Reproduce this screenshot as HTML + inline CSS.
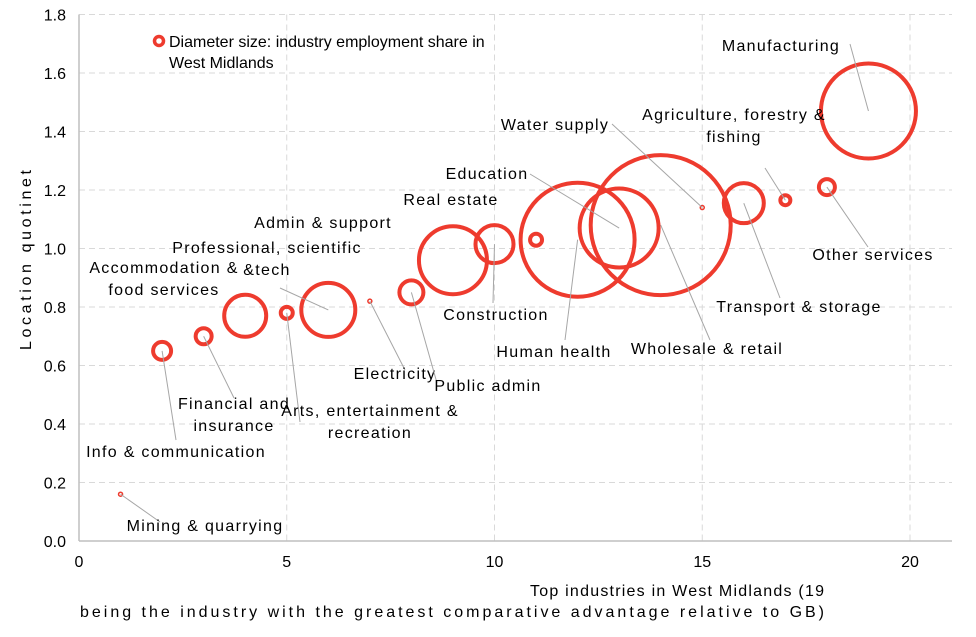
<!DOCTYPE html>
<html><head><meta charset="utf-8">
<style>
html,body{margin:0;padding:0;background:#fff;}
svg{display:block;font-family:"Liberation Sans",Arial,sans-serif;}
</style></head>
<body>
<svg id="chart" width="976" height="637" viewBox="0 0 976 637" xmlns="http://www.w3.org/2000/svg"></svg>
<script>
const industries = ["Mining & quarrying","Info & communication","Financial and insurance","Accommodation & food services","Arts, entertainment & recreation","Professional, scientific &tech","Electricity","Public admin","Admin & support","Construction","Real estate","Human health","Education","Wholesale & retail","Water supply","Transport & storage","Agriculture, forestry & fishing","Other services","Manufacturing"];
const rankValues = [1,2,3,4,5,6,7,8,9,10,11,12,13,14,15,16,17,18,19];
const lqValues = [0.16,0.65,0.70,0.77,0.78,0.79,0.82,0.85,0.96,1.015,1.03,1.03,1.07,1.08,1.14,1.155,1.165,1.21,1.47];
const employmentShare = [0.2,1.8,1.6,4.2,1.2,5.4,0.4,2.4,6.8,3.8,1.2,11.4,7.9,14.0,0.4,4.0,1.0,1.6,9.5];
const xTicks = [0,5,10,15,20];
const yTicks = [0,0.2,0.4,0.6,0.8,1.0,1.2,1.4,1.6,1.8];

const X0=79, X1=910, Y0=541, Y1=14.5, RIGHT=952;
const xs = v => X0 + (X1-X0)*v/20;
const ys = v => Y0 - (Y0-Y1)*v/1.8;
const rs = v => Math.max(2, v*5);
const NS="http://www.w3.org/2000/svg";
const svg=document.getElementById('chart');
function mk(tag,attrs,parent){const e=document.createElementNS(NS,tag);for(const k in attrs)e.setAttribute(k,attrs[k]);(parent||svg).appendChild(e);return e;}

const grid=mk('g',{});


yTicks.forEach(t=>{ if(t>0){ const l=mk('line',{x1:X0,x2:RIGHT,y1:ys(t),y2:ys(t),stroke:'#d9d9d9','stroke-width':1,'stroke-dasharray':'6,4'},grid);

}
 const tx=mk('text',{x:66,y:ys(t)+6,'text-anchor':'end','font-size':16,fill:'#000'});
 tx.textContent=t.toFixed(1);
 
 
});
xTicks.forEach(t=>{ if(t>0){ const l=mk('line',{x1:xs(t),x2:xs(t),y1:Y1,y2:Y0,stroke:'#d9d9d9','stroke-width':1,'stroke-dasharray':'6,4'},grid);

}
 const tx=mk('text',{x:xs(t),y:Y0+26,'text-anchor':'middle','font-size':16,fill:'#000'});
 tx.textContent=t;
 
 
});
const ya=mk('line',{x1:X0,x2:X0,y1:Y1,y2:Y0,stroke:'#bfbfbf','stroke-width':1.5});


const xa=mk('line',{x1:X0,x2:RIGHT,y1:Y0,y2:Y0,stroke:'#bfbfbf','stroke-width':1.5});



const labelPos = [
 [["Mining & quarrying"],205,531,'middle',160,522],
 [["Info & communication"],176,457,'middle',176,440],
 [["Financial and","insurance"],234,409,'middle',234,398],
 [["Accommodation &","food services"],164,273,'middle',null,null],
 [["Arts, entertainment &","recreation"],370,416,'middle',300,422],
 [["Professional, scientific","&tech"],267,253,'middle',280,288],
 [["Electricity"],395,379,'middle',405,370],
 [["Public admin"],488,391,'middle',437,383],
 [["Admin & support"],323,228,'middle',null,null],
 [["Construction"],496,320,'middle',493,303],
 [["Real estate"],451,205,'middle',null,null],
 [["Human health"],554,357,'middle',565,340],
 [["Education"],487,179,'middle',530,174],
 [["Wholesale & retail"],707,354,'middle',710,340],
 [["Water supply"],555,130,'middle',612,124],
 [["Transport & storage"],799,312,'middle',780,298],
 [["Agriculture, forestry &","fishing"],734,120,'middle',765,168],
 [["Other services"],873,260,'middle',868,247],
 [["Manufacturing"],781,51,'middle',850,44]
];

const marks=mk('g',{});


industries.forEach((name,i)=>{
 const cx=xs(rankValues[i]), cy=ys(lqValues[i]);
 const lp=labelPos[i];
 if(lp[4]!==null){
  const ln=mk('line',{x1:lp[4],y1:lp[5],x2:cx,y2:cy,stroke:'#a6a6a6','stroke-width':1});
  
  
 }
 const r=rs(employmentShare[i]);
 const c=mk('circle',{cx:cx,cy:cy,r:r,fill:'none',stroke:'#ee3b2e','stroke-width':r<3?1.5:4},marks);
 
 
 const t=mk('text',{x:lp[1],y:lp[2],'text-anchor':lp[3],'font-size':16,fill:'#000','letter-spacing':'1.3px'});
 
 
 lp[0].forEach((s,j)=>{const ts=mk('tspan',{x:lp[1],dy:j?22:0},t);ts.textContent=s;});
});

const lg=mk('circle',{cx:159,cy:41,r:4.5,fill:'none',stroke:'#ee3b2e','stroke-width':3.5});


const lt=mk('text',{x:169,y:47,'font-size':16,fill:'#000'});


["Diameter size: industry employment share in","West Midlands"].forEach((s,j)=>{const ts=mk('tspan',{x:169,dy:j?21:0},lt);ts.textContent=s;});

const yt=mk('text',{x:0,y:0,'font-size':16,'text-anchor':'middle',textLength:180,lengthAdjust:'spacing',transform:'translate(31,260) rotate(-90)'});
yt.textContent='Location quotinet';


const xt1=mk('text',{x:530,y:596,'font-size':16,textLength:294,lengthAdjust:'spacing'});
xt1.textContent='Top industries in West Midlands (19';


const xt2=mk('text',{x:80,y:617,'font-size':16,textLength:744,lengthAdjust:'spacing'});
xt2.textContent='being the industry with the greatest comparative advantage relative to GB)';


</script>
</body></html>
